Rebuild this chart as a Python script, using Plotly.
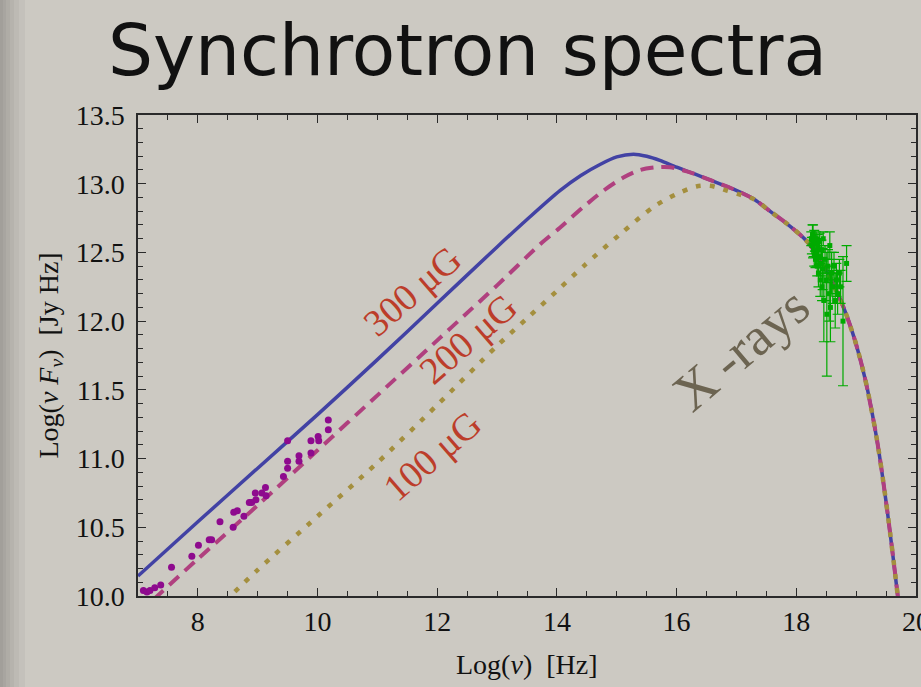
import plotly.graph_objects as go

# ---------------- data ----------------
# shared high-frequency tail where all three models coincide
tail_x = [17.3, 17.56, 17.84, 18.06, 18.2, 18.5, 18.78, 18.98, 19.15, 19.35, 19.52, 19.69, 19.76]
tail_y = [12.885, 12.80, 12.71, 12.63, 12.57, 12.37, 12.11, 11.86, 11.58, 11.13, 10.62, 10.02, 9.75]

b300_x = [7.0, 8.0, 9.0, 10.0, 11.0, 12.0, 13.0, 13.5, 14.05, 14.4, 14.72, 15.0, 15.28, 15.5, 15.72,
          16.0, 16.28, 16.6, 16.95]
b300_y = [10.145, 10.54, 10.93, 11.32, 11.72, 12.13, 12.54, 12.74, 12.95, 13.06, 13.14, 13.195, 13.215,
          13.20, 13.17, 13.12, 13.075, 13.02, 12.96]

b200_x = [7.0, 8.0, 9.0, 10.0, 11.0, 12.0, 12.55, 13.0, 13.72, 14.05, 14.44, 14.78, 15.11, 15.39,
          15.67, 15.89, 16.17, 16.6, 16.95]
b200_y = [9.87, 10.27, 10.66, 11.06, 11.46, 11.86, 12.08, 12.26, 12.56, 12.68, 12.83, 12.95, 13.045,
          13.10, 13.12, 13.12, 13.09, 13.02, 12.96]

b100_x = [8.45, 9.0, 10.0, 11.0, 12.0, 13.0, 13.55, 14.0, 14.47, 15.05, 15.61, 16.0, 16.33, 16.56,
          16.84, 17.06]
b100_y = [9.96, 10.19, 10.58, 10.97, 11.39, 11.82, 12.04, 12.22, 12.41, 12.63, 12.83, 12.925, 12.98,
          12.985, 12.95, 12.92]

radio_x = [7.09, 7.15, 7.20, 7.28, 7.38, 7.56, 7.90, 8.01, 8.19, 8.23, 8.37, 8.59, 8.60, 8.66, 8.77,
           8.86, 8.90, 8.97, 8.96, 9.07, 9.13, 9.14, 9.43, 9.50, 9.50, 9.50, 9.69, 9.69, 9.89, 9.89,
           10.01, 10.02, 10.18, 10.18]
radio_y = [10.04, 10.03, 10.04, 10.06, 10.08, 10.21, 10.29, 10.37, 10.41, 10.41, 10.54, 10.50, 10.61,
           10.62, 10.58, 10.68, 10.68, 10.70, 10.75, 10.75, 10.79, 10.73, 10.87, 10.93, 10.98, 11.13,
           10.98, 11.02, 11.04, 11.13, 11.16, 11.13, 11.21, 11.28]

xray_x = [18.25, 18.26, 18.27, 18.28, 18.29, 18.30, 18.30, 18.31, 18.32, 18.33, 18.34, 18.35, 18.36,
          18.37, 18.38, 18.39, 18.40, 18.41, 18.42, 18.43, 18.44, 18.45, 18.46, 18.48, 18.50, 18.51,
          18.53, 18.55, 18.56, 18.57, 18.59, 18.61, 18.63, 18.65, 18.67, 18.69, 18.72, 18.74, 18.78, 18.84]
xray_y = [12.60, 12.55, 12.63, 12.58, 12.52, 12.62, 12.48, 12.56, 12.45, 12.60, 12.50, 12.40, 12.55,
          12.35, 12.47, 12.58, 12.30, 12.42, 12.52, 12.25, 12.38, 12.60, 12.15, 12.45, 12.30, 12.05,
          12.40, 12.20, 12.55, 12.10, 12.35, 12.25, 12.40, 12.15, 12.30, 12.20, 12.35, 12.25, 12.00, 12.42]
xray_err = [0.05, 0.06, 0.07, 0.12, 0.05, 0.04, 0.08, 0.05, 0.06, 0.05, 0.10, 0.07, 0.08,
            0.10, 0.06, 0.06, 0.12, 0.09, 0.07, 0.10, 0.15, 0.05, 0.30, 0.10, 0.15, 0.45,
            0.12, 0.20, 0.10, 0.25, 0.15, 0.12, 0.10, 0.20, 0.12, 0.15, 0.10, 0.12, 0.47, 0.13]

field_labels = ["300 μG", "200 μG", "100 μG"]
field_label_x = [11.58, 12.51, 11.91]
field_label_y = [12.22, 11.87, 11.02]

x_range = [7, 20]
y_range = [10, 13.5]

# ---------------- styling / layout ----------------
W, H = 921, 687
L, R, T, B = 138, 5, 115, 91
PW, PH = W - L - R, H - T - B
BG = "#CCC9C2"


def pxx(px):
    return (px - L) / PW


def pxy(py):
    return (H - B - py) / PH


fig = go.Figure()

fig.add_trace(go.Scatter(x=b300_x + tail_x, y=b300_y + tail_y, mode="lines",
                         line=dict(color="#4242A4", width=3.5, shape="spline", smoothing=0.8),
                         hoverinfo="skip", showlegend=False))
fig.add_trace(go.Scatter(x=b200_x + tail_x, y=b200_y + tail_y, mode="lines",
                         line=dict(color="#B0407F", width=4, dash="13px,8px", shape="spline", smoothing=0.8),
                         hoverinfo="skip", showlegend=False))
fig.add_trace(go.Scatter(x=b100_x + tail_x, y=b100_y + tail_y, mode="lines",
                         line=dict(color="#A48F3E", width=4.5, dash="5px,9px", shape="spline", smoothing=0.8),
                         hoverinfo="skip", showlegend=False))

fig.add_trace(go.Scatter(x=radio_x, y=radio_y, mode="markers",
                         marker=dict(color="#8E0A8E", size=7, line=dict(width=0)),
                         showlegend=False))

fig.add_trace(go.Scatter(x=xray_x, y=xray_y, mode="markers",
                         marker=dict(color="#00AA00", size=5, symbol="square", line=dict(width=0)),
                         error_y=dict(type="data", array=xray_err, visible=True, color="#00AA00",
                                      thickness=1.2, width=5),
                         showlegend=False))

serif = "Liberation Serif"
axis_common = dict(
    showgrid=False, zeroline=False, showline=True, linecolor="#2a2a2a", linewidth=1.5,
    mirror="allticks", ticks="inside", tickcolor="#2a2a2a", tickwidth=1.3, ticklen=8,
    tickfont=dict(family=serif, size=28, color="#111111"), automargin=False,
    ticklabeloverflow="allow",
)

fig.update_xaxes(range=x_range, tick0=0, dtick=2,
                 minor=dict(ticks="inside", dtick=0.5, ticklen=5, tickcolor="#2a2a2a", tickwidth=1),
                 ticklabelstandoff=0, **axis_common)
fig.update_yaxes(range=y_range, tick0=0, dtick=0.5, tickformat=".1f",
                 minor=dict(ticks="inside", dtick=0.1, ticklen=5, tickcolor="#2a2a2a", tickwidth=1),
                 ticklabelstandoff=6, **axis_common)

annotations = []
# title
annotations.append(dict(text="Synchrotron spectra", xref="paper", yref="paper",
                        x=pxx(467), y=pxy(50), xanchor="center", yanchor="middle", showarrow=False,
                        font=dict(family="DejaVu Sans", size=71, color="#111111")))
# axis titles
annotations.append(dict(text="Log(<i>ν F</i><sub><i>ν</i></sub>)\u00a0\u00a0[Jy Hz]", xref="paper", yref="paper",
                        x=pxx(50), y=0.5, xanchor="center", yanchor="middle", textangle=-90,
                        showarrow=False, font=dict(family=serif, size=28, color="#111111")))
annotations.append(dict(text="Log(<i>ν</i>)\u00a0\u00a0[Hz]", xref="paper", yref="paper",
                        x=0.5, y=pxy(664), xanchor="center", yanchor="middle",
                        showarrow=False, font=dict(family=serif, size=28, color="#111111")))
# field labels
for t, lx, ly in zip(field_labels, field_label_x, field_label_y):
    annotations.append(dict(text=t, x=lx, y=ly, xref="x", yref="y", showarrow=False,
                            textangle=-41, xanchor="center", yanchor="middle",
                            font=dict(family=serif, size=38, color="#BC3D2A")))
annotations.append(dict(text="X\u2009-rays", x=17.08, y=11.80, xref="x", yref="y", showarrow=False,
                        textangle=-40, xanchor="center", yanchor="middle",
                        font=dict(family=serif, size=54, color="#6C6451")))

# left-edge vignette
shapes = []
for w in [3, 6, 10, 14, 19, 25]:
    shapes.append(dict(type="rect", xref="paper", yref="paper", x0=pxx(0), x1=pxx(w),
                       y0=pxy(H), y1=pxy(0), fillcolor="black", opacity=0.035, line=dict(width=0),
                       layer="below"))

fig.update_layout(width=W, height=H, margin=dict(l=L, r=R, t=T, b=B, pad=0),
                  paper_bgcolor=BG, plot_bgcolor=BG, annotations=annotations, shapes=shapes,
                  showlegend=False)

fig.write_html("out.html", config={"displayModeBar": False},
               post_script="document.body.style.margin='0';document.body.style.padding='0';"
                           "document.body.style.overflow='hidden';"
                           "document.body.style.background='" + BG + "';")
